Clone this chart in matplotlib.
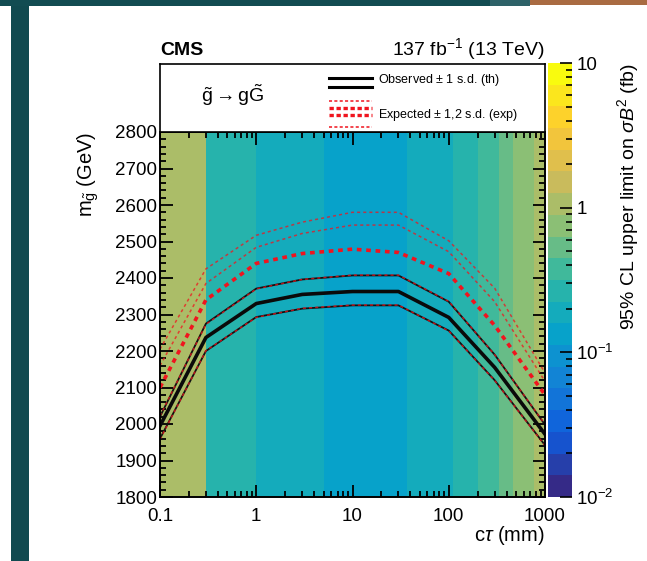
import numpy as np
import matplotlib
matplotlib.use('Agg')
import matplotlib.pyplot as plt
from matplotlib.colors import LinearSegmentedColormap, ListedColormap, LogNorm
from matplotlib.patches import Rectangle
from matplotlib.ticker import LogLocator, MultipleLocator, FixedLocator, NullFormatter, FixedFormatter

plt.rcParams['font.family'] = ['Liberation Sans', 'DejaVu Sans']
plt.rcParams['mathtext.fontset'] = 'custom'
plt.rcParams['mathtext.rm'] = 'Liberation Sans'
plt.rcParams['mathtext.it'] = 'Liberation Sans:italic'
plt.rcParams['mathtext.bf'] = 'Liberation Sans:bold'

# --- limit curves (mass in GeV vs c*tau in mm) ---
ctau = [0.1, 0.3, 1, 3, 10, 30, 100, 300, 1000]
obs = [1995, 2237, 2330, 2355, 2363, 2363, 2292, 2155, 1972]
obs_up = [2020, 2275, 2371, 2396, 2407, 2407, 2335, 2190, 1998]
obs_dn = [1960, 2200, 2293, 2316, 2325, 2325, 2256, 2120, 1942]
exp = [2100, 2340, 2440, 2467, 2479, 2470, 2412, 2270, 2080]
exp_up1 = [2160, 2385, 2484, 2522, 2545, 2545, 2472, 2335, 2117]
exp_up2 = [2205, 2425, 2517, 2553, 2580, 2580, 2502, 2372, 2140]
exp_dn1 = [2022, 2273, 2370, 2396, 2408, 2408, 2336, 2190, 1999]
exp_dn2 = [1958, 2201, 2292, 2317, 2326, 2326, 2255, 2119, 1941]

# --- colour map columns: c*tau bin edges and the 95% CL limit (fb) ---
ct_edges = [0.1, 0.3, 1, 5, 37, 110, 200, 330, 470, 770, 1000]
mass_edges = [1800, 2800]
limit_fb = [1.17, 0.26, 0.18, 0.135, 0.18, 0.24, 0.36, 0.51, 0.73, 1.17]

xticks = [0.1, 1, 10, 100, 1000]
xticklabels = ['0.1', '1', '10', '100', '1000']

# ROOT kBird palette
bird_r = [0.2082, 0.0592, 0.0780, 0.0232, 0.1802, 0.5301, 0.8186, 0.9956, 0.9764]
bird_g = [0.1664, 0.3599, 0.5041, 0.6419, 0.7178, 0.7492, 0.7328, 0.7862, 0.9832]
bird_b = [0.5293, 0.8684, 0.8385, 0.7914, 0.6425, 0.4662, 0.3499, 0.1968, 0.0539]
bird = LinearSegmentedColormap.from_list('bird', list(zip(bird_r, bird_g, bird_b)))
cmap = ListedColormap(bird(np.linspace(0, 1, 20)))
norm = LogNorm(vmin=1e-2, vmax=10)

fig = plt.figure(figsize=(6.47, 5.61), dpi=100)
W, H = 647.0, 561.0

# screenshot frame decoration
fig.add_artist(Rectangle((0, 1 - 6 / H), 530 / W, 6 / H, transform=fig.transFigure, color='#124c52', lw=0))
fig.add_artist(Rectangle((490 / W, 1 - 6 / H), 40 / W, 6 / H, transform=fig.transFigure, color='#2e6268', lw=0))
fig.add_artist(Rectangle((530 / W, 1 - 5 / H), 117 / W, 5 / H, transform=fig.transFigure, color='#a96b42', lw=0))
fig.add_artist(Rectangle((11 / W, 0), 18 / W, 1 - 6 / H, transform=fig.transFigure, color='#114a50', lw=0))

ax = fig.add_axes([160 / W, 1 - 497 / H, 385 / W, 365 / H])
mesh = ax.pcolormesh(ct_edges, mass_edges, np.array([limit_fb]), cmap=cmap, norm=norm)

red = '#f0141e'
ax.plot(ctau, exp_up2, color=red, lw=1.1, ls=(0, (2, 2)), alpha=0.75)
ax.plot(ctau, exp_up1, color=red, lw=1.1, ls=(0, (2, 2)), alpha=0.75)
ax.plot(ctau, exp, color=red, lw=2.6, ls=(0, (1.3, 1.3)))
ax.plot(ctau, obs_up, color='#111111', lw=1.3)
ax.plot(ctau, obs_dn, color='#111111', lw=1.3)
ax.plot(ctau, exp_dn1, color=red, lw=1.1, ls=(0, (2, 2)), alpha=0.75)
ax.plot(ctau, exp_dn2, color=red, lw=1.1, ls=(0, (2, 2)), alpha=0.75)
ax.plot(ctau, obs, color='#0a0a0a', lw=2.6)

ax.set_xscale('log')
ax.set_xlim(0.1, 1000)
ax.set_ylim(1800, 2800)
ax.xaxis.set_major_locator(FixedLocator(xticks))
ax.xaxis.set_major_formatter(FixedFormatter(xticklabels))
ax.xaxis.set_minor_locator(LogLocator(base=10, subs=np.arange(2, 10), numticks=20))
ax.xaxis.set_minor_formatter(NullFormatter())
ax.yaxis.set_major_locator(MultipleLocator(100))
ax.yaxis.set_minor_locator(MultipleLocator(20))
ax.tick_params(which='both', direction='in', top=True, right=True, labelsize=13.5, width=1.3)
ax.tick_params(which='major', length=9, pad=2)
ax.tick_params(which='minor', length=4.5)
ax.tick_params(axis='x', pad=8)
for s in ax.spines.values():
    s.set_linewidth(1.4)
ax.set_xlabel(r'c$\tau$ (mm)', fontsize=14.5, loc='right', labelpad=-1)
ax.set_ylabel(r'm$_{\tilde{\mathrm{g}}}$ (GeV)', fontsize=14.5, loc='top', labelpad=10)

# legend box above the frame
lg = fig.add_axes([160 / W, 1 - 132 / H, 385 / W, 68 / H])
lg.set_xlim(0, 1)
lg.set_ylim(0, 1)
lg.set_xticks([])
lg.set_yticks([])
for s in lg.spines.values():
    s.set_linewidth(1.2)
lg.text(0.19, 0.54, r'$\tilde{\mathrm{g}}\rightarrow \mathrm{g}\tilde{\mathrm{G}}$', fontsize=14,
        ha='center', va='center')
lg.plot([0.44, 0.55], [0.80, 0.80], color='black', lw=2.2)
lg.plot([0.44, 0.55], [0.66, 0.66], color='black', lw=2.2)
lg.text(0.565, 0.76, r'Observed $\pm$ 1 s.d. (th)', fontsize=9, va='center', ha='left')
lg.plot([0.44, 0.55], [0.45, 0.45], color=red, lw=1.1, ls=(0, (2, 1.5)))
lg.plot([0.44, 0.55], [0.36, 0.36], color=red, lw=2.4, ls=(0, (1.3, 0.8)))
lg.plot([0.44, 0.55], [0.25, 0.25], color=red, lw=2.4, ls=(0, (1.3, 0.8)))
lg.plot([0.44, 0.55], [0.08, 0.08], color=red, lw=1.1, ls=(0, (2, 1.5)))
lg.text(0.565, 0.25, r'Expected $\pm$ 1,2 s.d. (exp)', fontsize=9, va='center', ha='left')

fig.text(160 / W, 1 - 55 / H, 'CMS', fontsize=14, fontweight='bold', ha='left', va='baseline')
fig.text(545 / W, 1 - 55 / H, r'137 fb$^{-1}$ (13 TeV)', fontsize=14, ha='right', va='baseline')

# colour bar
cax = fig.add_axes([548 / W, 1 - 497 / H, 24 / W, 434 / H])
cb = fig.colorbar(mesh, cax=cax)
cb.outline.set_visible(False)
cax.yaxis.set_major_locator(FixedLocator([1e-2, 1e-1, 1, 10]))
cax.yaxis.set_major_formatter(FixedFormatter([r'$10^{-2}$', r'$10^{-1}$', '1', '10']))
cax.yaxis.set_minor_locator(LogLocator(base=10, subs=np.arange(2, 10), numticks=20))
cax.yaxis.set_minor_formatter(NullFormatter())
cax.tick_params(which='both', direction='in', right=True, left=False, labelsize=13.5, width=1.2)
cax.tick_params(which='major', length=9, pad=3)
cax.tick_params(which='minor', length=4.5)
cax.set_ylabel(r'95% CL upper limit on $\sigma\mathit{B}^{2}$ (fb)', fontsize=14, loc='top', labelpad=1)

fig.savefig('out.png', dpi=100)
